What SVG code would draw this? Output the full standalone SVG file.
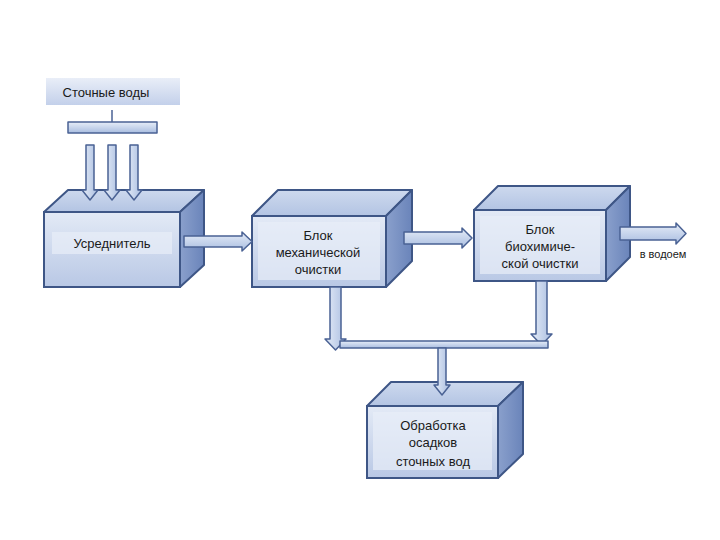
<svg xmlns="http://www.w3.org/2000/svg" width="720" height="540" viewBox="0 0 720 540">
<defs>
<linearGradient id="front" x1="0" y1="0" x2="0" y2="1"><stop offset="0" stop-color="#e3eaf6"/><stop offset="1" stop-color="#b9c8e5"/></linearGradient>
<linearGradient id="top" x1="0" y1="0" x2="0" y2="1"><stop offset="0" stop-color="#cdd9ee"/><stop offset="1" stop-color="#b3c4e3"/></linearGradient>
<linearGradient id="side" x1="0" y1="0" x2="1" y2="0"><stop offset="0" stop-color="#8aa0cc"/><stop offset="1" stop-color="#6a84ba"/></linearGradient>
<linearGradient id="arr" x1="0" y1="0" x2="0" y2="1"><stop offset="0" stop-color="#e6edf8"/><stop offset="1" stop-color="#a9bde0"/></linearGradient>
<linearGradient id="arrv" x1="0" y1="0" x2="1" y2="0"><stop offset="0" stop-color="#e6edf8"/><stop offset="1" stop-color="#a9bde0"/></linearGradient>
<linearGradient id="lbl" x1="0" y1="0" x2="0" y2="1"><stop offset="0" stop-color="#e9eef8"/><stop offset="1" stop-color="#c3d0ea"/></linearGradient>
</defs>
<style>
.f{fill:url(#front);stroke:#3e5686;stroke-width:2}
.t{fill:url(#top);stroke:#3e5686;stroke-width:2;stroke-linejoin:round}
.s{fill:url(#side);stroke:#3e5686;stroke-width:2;stroke-linejoin:round}
.band{fill:#e8eef8;opacity:.7}
.a{fill:url(#arr);stroke:#4a6294;stroke-width:1.5;stroke-linejoin:round}
.av{fill:url(#arrv);stroke:#4a6294;stroke-width:1.5;stroke-linejoin:round}
text{font-family:"Liberation Sans",Arial,sans-serif;font-weight:normal;font-size:13px;fill:#1a1a1a;text-anchor:middle}
</style>
<rect width="720" height="540" fill="#fff"/>
<g id="source">
<rect x="46" y="78" width="134" height="27" fill="url(#lbl)"/>
<text x="106" y="97">Сточные воды</text>
</g>
<g id="b1">
<polygon class="t" points="44,212 68,190 204,190 180,212"/>
<polygon class="s" points="180,212 204,190 204,265 180,287"/>
<rect class="f" x="44" y="212" width="136" height="75"/>
<rect class="band" x="52" y="232" width="120" height="22"/>
<text x="112" y="248">Усреднитель</text>
</g>
<g id="b2">
<polygon class="t" points="252,216 278,190 412,190 386,216"/>
<polygon class="s" points="386,216 412,190 412,261 386,287"/>
<rect class="f" x="252" y="216" width="134" height="71"/>
<rect class="band" x="258" y="222" width="122" height="58"/>
<text x="318" y="240">Блок</text><text x="318" y="257">механической</text><text x="318" y="274">очистки</text>
</g>
<g id="b3">
<polygon class="t" points="474,210 498,186 630,186 606,210"/>
<polygon class="s" points="606,210 630,186 630,257 606,281"/>
<rect class="f" x="474" y="210" width="132" height="71"/>
<rect class="band" x="480" y="216" width="120" height="58"/>
<text x="540" y="234">Блок</text><text x="540" y="251">биохимиче-</text><text x="540" y="268">ской очистки</text>
</g>
<g id="b4">
<polygon class="t" points="367,406 391,382 523,382 498,406"/>
<polygon class="s" points="498,406 523,382 523,454 498,478"/>
<rect class="f" x="367" y="406" width="131" height="72"/>
<rect class="band" x="373" y="412" width="119" height="58"/>
<text x="433" y="430">Обработка</text><text x="433" y="447">осадков</text><text x="433" y="466">сточных вод</text>
</g>
<text x="663" y="258" style="font-size:11px">в водоем</text>
<g id="connectors">
<line x1="112" y1="110" x2="112" y2="122" stroke="#4a6294" stroke-width="1.5"/>
<rect class="a" x="68" y="122" width="89" height="11"/>
<polygon class="av" points="86,145 94,145 94,190 98,190 90,200 82,190 86,190"/>
<polygon class="av" points="108,145 116,145 116,190 120,190 112,200 104,190 108,190"/>
<polygon class="av" points="130,145 138,145 138,190 142,190 134,200 126,190 130,190"/>
<polygon class="a" points="184,236 242,236 242,232 252,241.5 242,251 242,247 184,247"/>
<polygon class="a" points="404,232 462,232 462,228 472,238 462,248 462,244 404,244"/>
<polygon class="a" points="620,227 676,227 676,223 686,233.5 676,244 676,240 620,240"/>
<polygon class="av" points="330,287 341,287 341,339 346,339 335.5,350 325,339 330,339"/>
<polygon class="av" points="536,281 547,281 547,334 552,334 541.5,345 531,334 536,334"/>
<rect class="a" x="340" y="341" width="208" height="7"/>
<polygon class="av" points="438,348 446,348 446,385 450,385 442,395 434,385 438,385"/>
</g>
</svg>
